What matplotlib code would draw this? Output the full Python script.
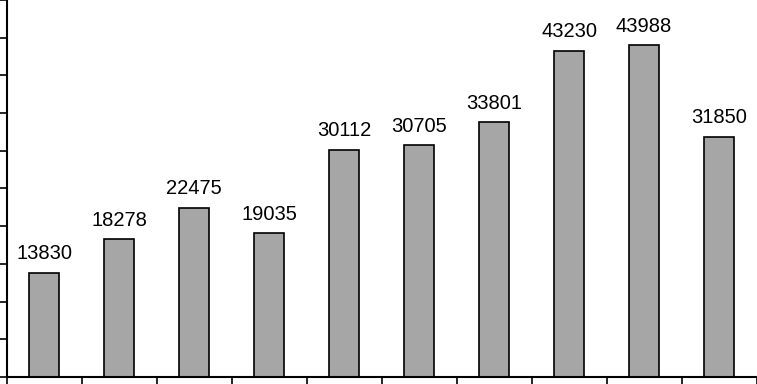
import matplotlib
matplotlib.use("Agg")
import matplotlib.pyplot as plt
import numpy as np

categories = ["1", "2", "3", "4", "5", "6", "7", "8", "9", "10"]
values = [13830, 18278, 22475, 19035, 30112, 30705, 33801, 43230, 43988, 31850]
y_ticks = [0, 5000, 10000, 15000, 20000, 25000, 30000, 35000, 40000, 45000, 50000]

plt.rcParams['font.family'] = ['Liberation Sans', 'DejaVu Sans']

fig = plt.figure(figsize=(7.57, 3.84), dpi=100)
ax = fig.add_axes([6.5 / 757, 7 / 384, 750 / 757, 377 / 384])

x = np.arange(len(categories))
ax.bar(x, values, width=0.4, color='#a6a6a6', edgecolor='black', linewidth=1.2, zorder=2)

for xi, v in zip(x, values):
    ax.annotate(str(v), (xi, v), xytext=(0, 9.8), textcoords='offset points',
                ha='center', va='baseline', fontsize=14.5, color='black')

ax.set_xlim(-0.5, len(categories) - 0.5)
ax.set_ylim(0, 50000)
ax.set_yticks(y_ticks)
ax.set_yticklabels([])
ax.set_xticks(np.arange(len(categories) + 1) - 0.5)
ax.set_xticklabels([])
ax.tick_params(axis='both', direction='out', length=6, width=1.2, color='black')

for s in ['top', 'right']:
    ax.spines[s].set_visible(False)
for s in ['left', 'bottom']:
    ax.spines[s].set_linewidth(1.5)
    ax.spines[s].set_color('black')

fig.savefig('out.png', dpi=100)
